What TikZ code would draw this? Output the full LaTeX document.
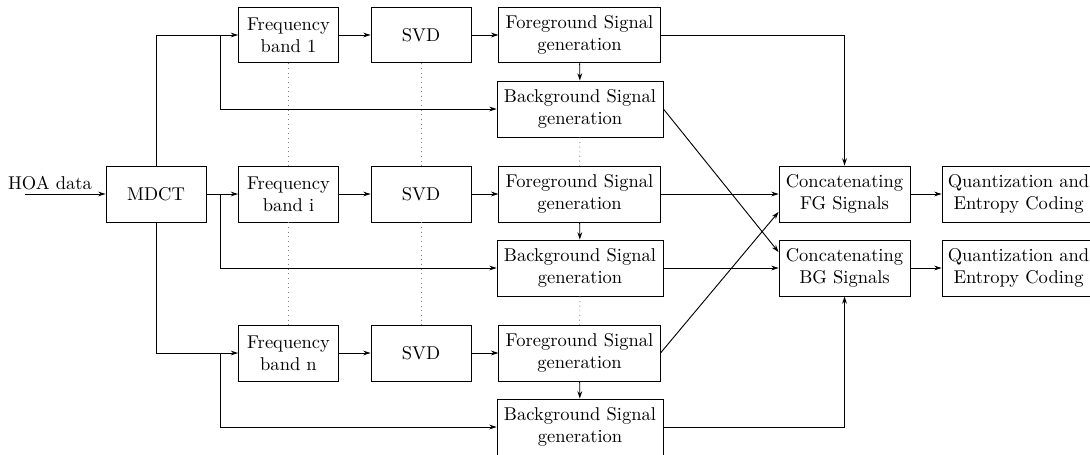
\documentclass[tikz,border=0pt]{standalone}
\usetikzlibrary{arrows.meta}
\begin{document}
\begin{tikzpicture}[x=0.54pt,y=-0.54pt,
  blk/.style={draw, line width=0.5pt, align=center, minimum height=30.2pt, inner sep=0pt},
  wA/.style={minimum width=54pt},
  wG/.style={minimum width=87pt},
  wB/.style={minimum width=89.6pt},
  wC/.style={minimum width=70.7pt},
  wQ/.style={minimum width=82.6pt},
  arr/.style={-{Stealth[length=4pt,width=2.6pt]}, line width=0.5pt},
  dots/.style={dotted, gray, line width=0.5pt}]
\useasboundingbox (0,0) rectangle (1090,454);
\clip (0,0) rectangle (1090,454);
% nodes
\node (hoa) at (50,183) {HOA data};
\coordinate (in) at (25,194);
\node[blk,wA] (mdct) at (156,194) {MDCT};
\node[blk,wA] (f1) at (288.5,35) {Frequency\\band 1};
\node[blk,wA] (fi) at (288.5,194) {Frequency\\band i};
\node[blk,wA] (fn) at (288.5,353) {Frequency\\band n};
\node[blk,wA] (s1) at (421,35) {SVD};
\node[blk,wA] (si) at (421,194) {SVD};
\node[blk,wA] (sn) at (421,353) {SVD};
\node[blk,wG] (g1) at (579.5,35) {Foreground Signal\\generation};
\node[blk,wG] (gi) at (579.5,194) {Foreground Signal\\generation};
\node[blk,wG] (gn) at (579.5,353) {Foreground Signal\\generation};
\node[blk,wB] (b1) at (580,109) {Background Signal\\generation};
\node[blk,wB] (bi) at (580,268) {Background Signal\\generation};
\node[blk,wB] (bn) at (580,427) {Background Signal\\generation};
\node[blk,wC] (cf) at (844.5,194) {Concatenating\\FG Signals};
\node[blk,wC] (cb) at (844.5,268) {Concatenating\\BG Signals};
\node[blk,wQ] (qf) at (1018.5,194) {Quantization and\\Entropy Coding};
\node[blk,wQ] (qb) at (1018.5,268) {Quantization and\\Entropy Coding};
\coordinate (j1) at (220,35);
\coordinate (j2) at (220,194);
\coordinate (j3) at (220,353);
% connectors
\draw[arr] (in) -- (mdct);
\draw[arr] (mdct) -- (fi);
\draw[arr] (mdct.north) |- (f1);
\draw[arr] (mdct.south) |- (fn);
\draw[arr] (j1) |- (b1);
\draw[arr] (j2) |- (bi);
\draw[arr] (j3) |- (bn);
\draw[arr] (f1) -- (s1);
\draw[arr] (fi) -- (si);
\draw[arr] (fn) -- (sn);
\draw[arr] (s1) -- (g1);
\draw[arr] (si) -- (gi);
\draw[arr] (sn) -- (gn);
\draw[arr] (g1) -- (b1);
\draw[arr] (gi) -- (bi);
\draw[arr] (gn) -- (bn);
\draw[arr] (g1) -| (cf);
\draw[arr] (gi) -- (cf);
\draw[arr] (gn.east) -- ([yshift=-9.7pt]cf.west);
\draw[arr] (b1.east) -- ([yshift=8.6pt]cb.west);
\draw[arr] (bi) -- (cb);
\draw[arr] (bn) -| (cb);
\draw[arr] (cf) -- (qf);
\draw[arr] (cb) -- (qb);
% dotted continuation lines
\draw[dots] (f1) -- (fi);
\draw[dots] (fi) -- (fn);
\draw[dots] (s1) -- (si);
\draw[dots] (si) -- (sn);
\draw[dots] (b1) -- (gi);
\draw[dots] (bi) -- (gn);
\end{tikzpicture}
\end{document}
